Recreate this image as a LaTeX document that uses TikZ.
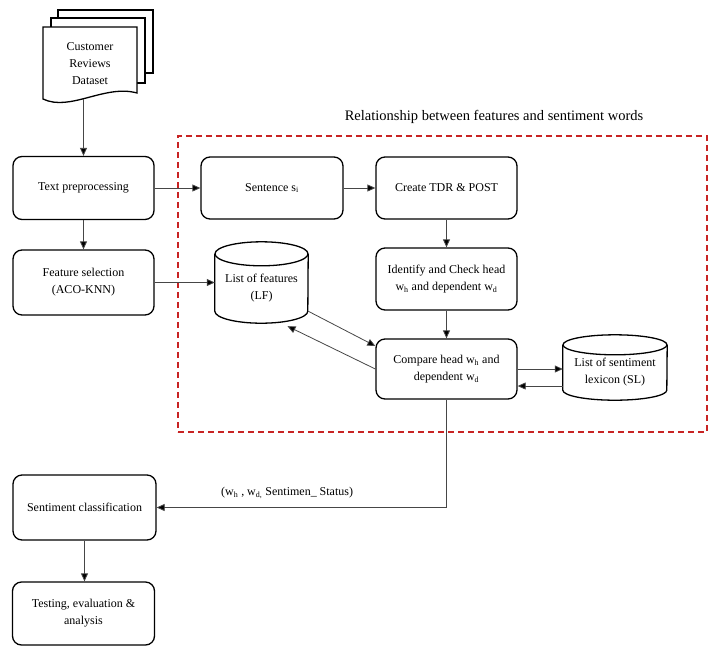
\documentclass[tikz,border=0pt]{standalone}
\usepackage{fontspec}
\setmainfont{Liberation Serif}
\usetikzlibrary{arrows.meta,calc}
\definecolor{redbox}{RGB}{200,35,35}
\definecolor{linegray}{RGB}{70,70,70}
\tikzset{
  stepbox/.style={draw=black, line width=1.3pt, rounded corners=9pt, align=center,
    font=\fontsize{12}{17}\selectfont, inner sep=2pt},
  cylbox/.style={align=center, font=\fontsize{12}{17}\selectfont, inner sep=0pt},
  cylline/.style={draw=black, line width=1.3pt},
  arr/.style={draw=linegray, line width=0.8pt, -{Triangle[length=8pt,width=7pt,fill=black]}},
  plain/.style={draw=linegray, line width=0.8pt},
  page/.style={draw=black, line width=1.3pt, fill=white},
}
\begin{document}
\begin{tikzpicture}[x=1pt,y=1pt]
\useasboundingbox (0,0) rectangle (712,-646);

% document stack
\draw[page] (58,-10) rectangle (153,-73);
\draw[page] (51,-18) rectangle (145,-83);
\draw[page] (43,-27) -- (137,-27) -- (137,-93) .. controls (105,-84) and (70,-112) .. (43,-99) -- cycle;
\node[cylbox] (doc) at (90,-64) {Customer\\Reviews\\Dataset};
\coordinate (docb) at (83.5,-99);

% left column
\node[stepbox, minimum width=141pt, minimum height=63pt] (tp) at (83.5,-188) {Text preprocessing};
\node[stepbox, minimum width=141pt, minimum height=65pt] (fs) at (83.5,-282.5) {Feature selection\\(ACO-KNN)};
\node[stepbox, minimum width=143pt, minimum height=65pt] (sc) at (84.5,-507.5) {Sentiment classification};
\node[stepbox, minimum width=142pt, minimum height=63pt] (test) at (83.5,-613.5) {Testing, evaluation \&\\analysis};

% group box
\node[draw=redbox, line width=1.5pt, dash pattern=on 6pt off 4pt, minimum width=529pt, minimum height=296pt, inner sep=0pt] (group) at (442.5,-284) {};
\node[font=\fontsize{14.5}{17}\selectfont] (title) at (494,-117) {Relationship between features and sentiment words};

% inner boxes
\node[stepbox, minimum width=142pt, minimum height=62pt] (sent) at (272,-188) {Sentence s\textsubscript{i}};
\node[stepbox, minimum width=141pt, minimum height=62pt] (tdr) at (446.5,-188) {Create TDR \& POST};
\node[stepbox, minimum width=141pt, minimum height=62pt] (iden) at (446.5,-279) {Identify and Check head\\w\textsubscript{h} and dependent w\textsubscript{d}};
\node[stepbox, minimum width=141pt, minimum height=60pt] (comp) at (446.5,-369) {Compare head w\textsubscript{h} and\\dependent w\textsubscript{d}};

% cylinders
\node[cylbox, minimum width=93pt, minimum height=69pt] (lf) at (261.5,-288.5) {List of features\\(LF)};
\draw[cylline] (lf.north) ellipse [x radius=46.5pt, y radius=12pt];
\draw[cylline] (lf.north west) -- ([yshift=12pt]lf.south west) arc[start angle=180, end angle=360, x radius=46.5pt, y radius=12pt] -- (lf.north east);

\node[cylbox, minimum width=104pt, minimum height=55pt] (sl) at (615,-372.5) {List of sentiment\\lexicon (SL)};
\draw[cylline] (sl.north) ellipse [x radius=52pt, y radius=10pt];
\draw[cylline] (sl.north west) -- ([yshift=10pt]sl.south west) arc[start angle=180, end angle=360, x radius=52pt, y radius=10pt] -- (sl.north east);

% connectors
\draw[arr] (docb) -- (tp.north);
\draw[arr] (tp.south) -- (fs.north);
\draw[arr] (tp.east) -- (sent.west);
\draw[arr] (sent.east) -- (tdr.west);
\draw[arr] (tdr.south) -- (iden.north);
\draw[arr] (iden.south) -- (comp.north);
\draw[arr] (fs.east) -- (fs.east -| lf.west);
\draw[arr] ([yshift=12pt]lf.south east) -- ([yshift=23pt]comp.west);
\draw[arr] (comp.west) -- ([xshift=26pt,yshift=-3pt]lf.south);
\draw[arr] (comp.east) -- (comp.east -| sl.west);
\draw[arr] ($(sl.west|-comp.east)+(0,-17)$) -- ($(comp.east)+(0,-17)$);
\draw[arr] (comp.south) -- (comp.south |- sc.east) -- node[pos=0.55, above=5pt, font=\fontsize{12}{14}\selectfont] (lbl) {(w\textsubscript{h} , w\textsubscript{d,} Sentimen\_ Status)} (sc.east);
\draw[arr] (sc.south) -- (sc.south |- test.north);
\end{tikzpicture}
\end{document}
